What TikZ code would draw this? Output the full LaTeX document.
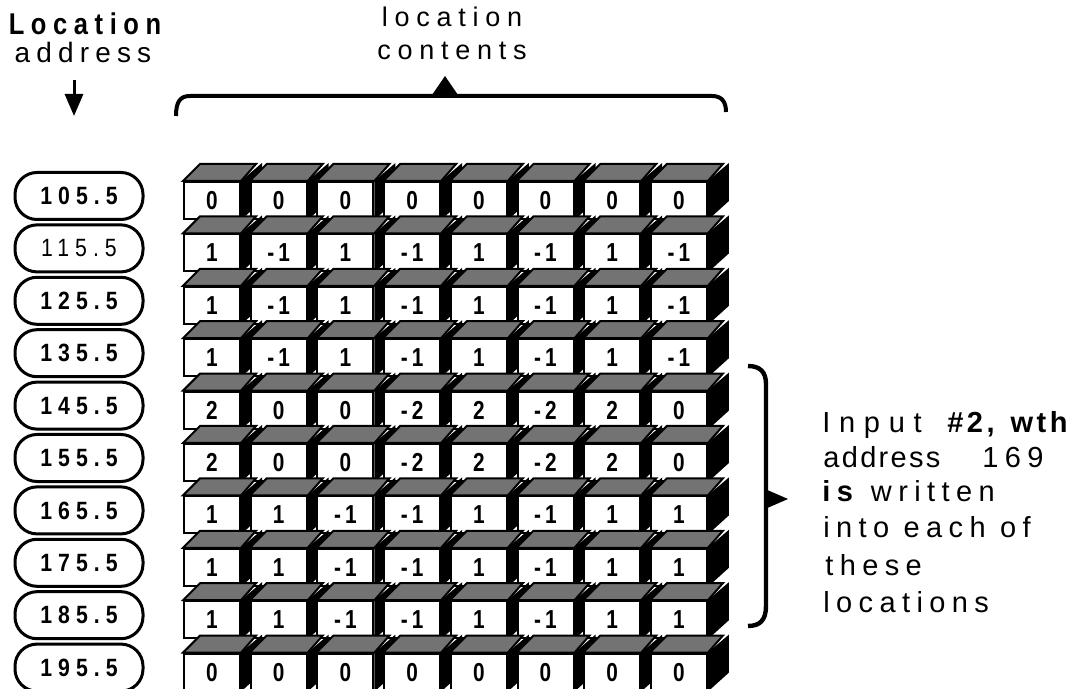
\documentclass[tikz,border=0pt]{standalone}
\usepackage{fontspec}
\setmainfont{Liberation Sans}
\newfontfamily\fwide[LetterSpace=22]{Liberation Sans}
\newfontfamily\fnarrow[LetterSpace=8]{Liberation Sans}
\newfontfamily\fcell[LetterSpace=16,FakeStretch=0.8]{Liberation Sans}
\newfontfamily\faddr[LetterSpace=24,FakeStretch=0.85]{Liberation Sans}
\newfontfamily\ftitle[LetterSpace=22,FakeStretch=0.85]{Liberation Sans}
\newfontfamily\fhead[LetterSpace=25]{Liberation Sans}
\newfontfamily\finput[LetterSpace=30]{Liberation Sans}
\newfontfamily\fhash[LetterSpace=12]{Liberation Sans}
\usetikzlibrary{arrows.meta}

\begin{document}
\begin{tikzpicture}
  [x=0.5pt,y=-0.5pt,every node/.style={inner sep=0pt},
   cell/.style={draw,fill=white,line width=1pt,minimum width=28pt,minimum height=18.5pt,
     anchor=north west,font=\fcell\bfseries\fontsize{13}{13}\selectfont},
   lid/.style={fill=black!55,draw=black,line width=1pt},
   addr/.style={draw,line width=1.5pt,rounded corners=11pt,minimum width=64pt,minimum height=23.5pt,
     font=\faddr\bfseries\fontsize{12.5}{12.5}\selectfont},
   addrlight/.style={addr,font=\faddr\fontsize{12.5}{12.5}\selectfont},
   rtext/.style={anchor=base west,font=\fwide\fontsize{14.5}{14.5}\selectfont}]

  \useasboundingbox (0,0) rectangle (1092,689);

  % headings
  \node[anchor=base,font=\ftitle\bfseries\fontsize{15}{15}\selectfont] (loctop) at (85,35) {Location};
  \node[anchor=base,font=\fwide\fontsize{14}{14}\selectfont] (locbot) at (83,63) {address};
  \node[anchor=base,font=\fhead\fontsize{13.5}{13.5}\selectfont] (conttop) at (452,27) {location};
  \node[anchor=base,font=\fhead\fontsize{13.5}{13.5}\selectfont] (contbot) at (452,60) {contents};

  \coordinate (arrtop) at (74,80);
  \coordinate (arrtip) at (74,116);
  \draw[line width=1.5pt,-{Triangle[width=9pt,length=11pt]}] (arrtop) -- (arrtip);

  % brace over the contents
  \draw[line width=2pt] (176,116) .. controls (176,102) and (180,96) .. (190,96) -- (712,96)
        .. controls (722,96) and (726,102) .. (726,112);
  \fill (445,76) -- (458,95) -- (432,95) -- cycle;

  % addresses
  \foreach \a/\s [count=\i from 0] in {105.5/addr,115.5/addrlight,125.5/addr,135.5/addr,145.5/addr,
      155.5/addr,165.5/addr,175.5/addr,185.5/addr,195.5/addr}
    \node[\s] (a\i) at (79,{196+52.4*\i}) {\a};

  % contents, one box per cell
  \foreach \row [count=\i from 0] in {{0,0,0,0,0,0,0,0},{1,-1,1,-1,1,-1,1,-1},{1,-1,1,-1,1,-1,1,-1},
      {1,-1,1,-1,1,-1,1,-1},{2,0,0,-2,2,-2,2,0},{2,0,0,-2,2,-2,2,0},{1,1,-1,-1,1,-1,1,1},
      {1,1,-1,-1,1,-1,1,1},{1,1,-1,-1,1,-1,1,1},{0,0,0,0,0,0,0,0}}
    \foreach \v [count=\j from 0] in \row {
      \node[cell] (c\i-\j) at ({183+66.7*\j},{181+52.4*\i}) {\v};
      \fill (c\i-\j.north east) -- ++(21,-18) -- ++(0,38) -- (c\i-\j.south east) -- cycle;
      \filldraw[lid] (c\i-\j.north west) -- (c\i-\j.north east) -- ++(15,-17) -- ++(-56,0) -- cycle;
    }

  % brace on the right
  \draw[line width=2.2pt] (748,366) .. controls (760,366) and (766,372) .. (766,384) -- (766,606)
        .. controls (766,620) and (760,626) .. (748,626);
  \fill (765,489) -- (788,499) -- (765,509) -- cycle;

  \node[rtext] (in1) at (822,433) {\finput Input};
  \node[rtext,font=\fhash\bfseries\fontsize{14.5}{14.5}\selectfont] (in2) at (947,433) {\#2,\hspace{8pt}wth};
  \node[rtext] (in3) at (823,467) {{\fnarrow address}\hspace{21pt}169};
  \node[rtext] (in4) at (822,502) {{\bfseries is}\hspace{9pt}written};
  \node[rtext] (in5) at (823,537) {into each of};
  \node[rtext] (in6) at (825,575) {these};
  \node[rtext] (in7) at (823,612) {locations};
\end{tikzpicture}
\end{document}
